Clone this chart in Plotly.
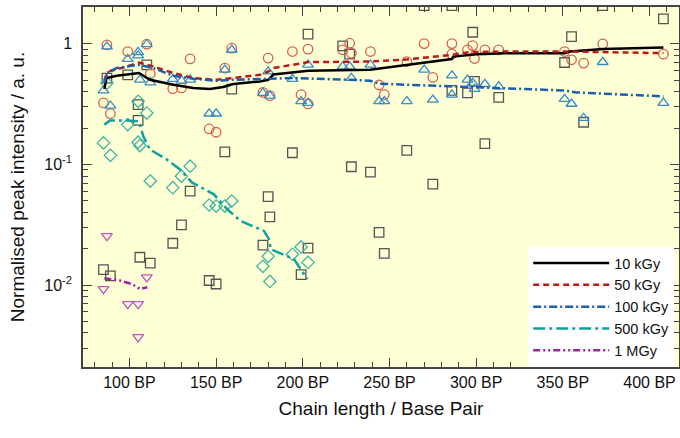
import plotly.graph_objects as go

# ---- data ----
x10 = [85, 87, 89, 99, 105, 105, 106, 110, 112, 125, 130, 135, 146, 150, 155, 159, 177, 180, 181, 194,
       199, 203, 203, 223, 227, 228, 239, 244, 247, 260, 270, 275, 286, 286, 295, 298, 299, 305, 313, 351,
       355, 362, 373, 408]
y10 = [0.0134, 0.521, 0.0119, 0.554, 0.313, 0.232, 0.0170, 0.671, 0.0152, 0.0222, 0.0315, 0.0601, 0.0109,
       0.0102, 0.127, 0.422, 0.0214, 0.0541, 0.0367, 0.125, 0.0122, 1.203, 0.0202, 0.963, 0.822, 0.0957,
       0.0863, 0.0273, 0.0183, 0.131, 2.08, 0.0687, 2.08, 0.411, 0.392, 1.249, 0.488, 0.149, 0.360, 0.701,
       1.149, 0.224, 2.08, 1.61]

x50 = [85, 87, 89, 99, 110, 112, 125, 130, 135, 146, 150, 155, 159, 177, 180, 181, 194, 199, 203, 203,
       223, 227, 228, 239, 244, 247, 260, 270, 275, 286, 286, 295, 298, 299, 305, 313, 351, 355, 362, 373, 408]
y50 = [0.324, 0.981, 0.264, 0.864, 0.994, 0.565, 0.425, 0.431, 0.751, 0.197, 0.185, 0.630, 0.921, 0.396,
       0.762, 0.372, 0.864, 0.379, 0.904, 0.318, 0.892, 1.013, 0.838, 0.864, 0.456, 0.379, 0.714, 1.006,
       0.527, 1.006, 0.822, 0.892, 0.968, 0.756, 0.892, 0.892, 0.864, 0.738, 0.693, 1.0, 0.822]

x100 = [85, 87, 89, 99, 105, 105, 106, 110, 112, 125, 130, 135, 146, 150, 155, 159, 177, 180, 181, 194,
        199, 203, 203, 223, 227, 228, 239, 244, 247, 260, 270, 275, 286, 286, 295, 298, 299, 305, 313, 351,
        355, 362, 373, 408]
y100 = [0.411, 0.950, 0.307, 0.748, 0.854, 0.80, 0.504, 0.994, 0.479, 0.511, 0.495, 0.504, 0.264, 0.264,
        0.610, 0.892, 0.392, 0.590, 0.372, 0.511, 0.334, 0.671, 0.324, 0.649, 0.649, 0.521, 0.671, 0.334,
        0.334, 0.334, 0.610, 0.344, 0.547, 0.379, 0.504, 0.473, 0.422, 0.464, 0.444, 0.349, 0.318, 0.243,
        0.706, 0.324]

x500 = [85, 87, 89, 99, 105, 106, 105, 110, 112, 125, 130, 135, 146, 150, 155, 159, 177, 180, 181, 194, 199, 203]
y500 = [0.151, 0.473, 0.119, 0.214, 0.153, 0.1435, 0.334, 0.267, 0.0728, 0.0642, 0.0800, 0.0968, 0.0461,
        0.0452, 0.0452, 0.0497, 0.0143, 0.0173, 0.0107, 0.0180, 0.0207, 0.0154]

x1M = [85, 87, 99, 105, 105, 110]
y1M = [0.00927, 0.0255, 0.00697, 0.00697, 0.00370, 0.0116]

# smoothed trend lines
lx10 = [85.5, 86.8, 92.6, 105.5, 111.8, 125.3, 136.8, 146.4, 154.1, 159.9, 175.3, 180.1, 183, 203.2, 238.8,
        258, 269.5, 285.9, 286.8, 300.3, 315.7, 350.9, 354.1, 373.4, 408]
ly10 = [0.422, 0.521, 0.544, 0.573, 0.504, 0.458, 0.431, 0.422, 0.439, 0.464, 0.488, 0.504, 0.557, 0.598,
        0.610, 0.662, 0.693, 0.748, 0.785, 0.822, 0.838, 0.838, 0.864, 0.909, 0.932]
lx50 = [85.5, 87.8, 98.4, 105.5, 113.8, 125.3, 136.8, 150.3, 159.9, 175.3, 180.1, 183, 203.2, 238.8, 258,
        277.2, 285.9, 296.4, 315.7, 354.1, 408]
ly50 = [0.504, 0.590, 0.649, 0.701, 0.649, 0.573, 0.521, 0.504, 0.521, 0.554, 0.590, 0.630, 0.706, 0.714,
        0.738, 0.785, 0.811, 0.854, 0.864, 0.864, 0.838]
lx100 = [85.5, 86.8, 92.6, 105.5, 113.8, 125.3, 136.8, 150.3, 159.9, 180.1, 194.5, 227.2, 238.8, 244.5,
         277.2, 315.7, 350.3, 358, 408]
ly100 = [0.473, 0.573, 0.630, 0.671, 0.630, 0.544, 0.514, 0.495, 0.504, 0.514, 0.521, 0.504, 0.495, 0.467,
         0.450, 0.431, 0.411, 0.396, 0.367]
lx500 = [85.5, 88.8, 98.4, 105.5, 108, 111.8, 121.5, 129.1, 136.2, 148.7, 156.4, 164.1, 177.6, 180.5,
         181.5, 191, 194.9, 202.6]
ly500 = [0.214, 0.232, 0.232, 0.228, 0.171, 0.133, 0.110, 0.0909, 0.0706, 0.0565, 0.0425, 0.034, 0.0281,
         0.024, 0.0198, 0.0173, 0.0164, 0.0112]
lx1M = [85.5, 94.5, 101.3, 106.1, 110.3]
ly1M = [0.01136, 0.0109, 0.0102, 0.00927, 0.00957]

names = ["10 kGy", "50 kGy", "100 kGy", "500 kGy", "1 MGy"]
xtick_vals = [100, 150, 200, 250, 300, 350, 400]
xtick_text = ["100 BP", "150 BP", "200 BP", "250 BP", "300 BP", "350 BP", "400 BP"]
ytick_vals = [0.01, 0.1, 1]
ytick_text = ["10<sup>-2</sup>", "10<sup>-1</sup>", "1"]

FONT = "Liberation Sans, Arial, sans-serif"

fig = go.Figure()

markers = [
    (x10, y10, "square-open", "#555555"),
    (x50, y50, "circle-open", "#d4624c"),
    (x100, y100, "triangle-up-open", "#3a8cc4"),
    (x500, y500, "diamond-open", "#3fb5a5"),
    (x1M, y1M, "triangle-down-open", "#c055c0"),
]
for xs, ys, sym, col in markers:
    fig.add_trace(go.Scatter(x=xs, y=ys, mode="markers", showlegend=False,
                             marker=dict(symbol=sym, size=9.5, color=col, line=dict(width=1.3, color=col))))

lines = [
    (lx10, ly10, "#000000", "solid"),
    (lx50, ly50, "#bb1a1a", "6px,4px"),
    (lx100, ly100, "#1a5eb0", "8px,3px,2px,3px"),
    (lx500, ly500, "#11a0a0", "12px,4px,3px,4px"),
    (lx1M, ly1M, "#a020a8", "7px,3px,2px,3px,2px,3px"),
]
for (xs, ys, col, dash), nm in zip(lines, names):
    fig.add_trace(go.Scatter(x=xs, y=ys, mode="lines", name=nm,
                             line=dict(color=col, width=2.5, dash=dash)))

fig.update_layout(
    width=680, height=438,
    margin=dict(l=83, r=1, t=7, b=71),
    paper_bgcolor="white",
    plot_bgcolor="#ffffd6",
    font=dict(family=FONT, size=16, color="#111"),
    showlegend=True,
    legend=dict(x=0.747, y=0.0, xanchor="left", yanchor="bottom",
                bgcolor="white", borderwidth=0, font=dict(size=14.5, color="#111"),
                itemwidth=76, tracegroupgap=0),
)
fig.update_xaxes(
    range=[73.2, 417], showgrid=False, zeroline=False,
    showline=True, linecolor="#444", linewidth=1.5, mirror="ticks",
    ticks="inside", ticklen=9, tickwidth=1.3, tickcolor="#444",
    tickvals=xtick_vals, ticktext=xtick_text, tickfont=dict(size=16),
    minor=dict(tickvals=list(range(80, 420, 10)), ticks="inside", ticklen=5, tickcolor="#444", tickwidth=1),
    title=dict(text="Chain length / Base Pair", font=dict(size=19), standoff=12),
    automargin=False,
)
fig.update_yaxes(
    type="log", range=[-2.68, 0.306], showgrid=False, zeroline=False,
    showline=True, linecolor="#444", linewidth=1.5, mirror="ticks",
    ticks="inside", ticklen=9, tickwidth=1.3, tickcolor="#444",
    tickvals=ytick_vals, ticktext=ytick_text, tickfont=dict(size=16),
    minor=dict(tickvals=[0.003, 0.004, 0.005, 0.006, 0.007, 0.008, 0.009,
                         0.02, 0.03, 0.04, 0.05, 0.06, 0.07, 0.08, 0.09,
                         0.2, 0.3, 0.4, 0.5, 0.6, 0.7, 0.8, 0.9, 2],
               ticks="inside", ticklen=5, tickcolor="#444", tickwidth=1),
    title=dict(text="Normalised peak intensity / a. u.", font=dict(size=19), standoff=15),
    ticklabelstandoff=6,
    automargin=False,
)

fig.write_html("out.html")
